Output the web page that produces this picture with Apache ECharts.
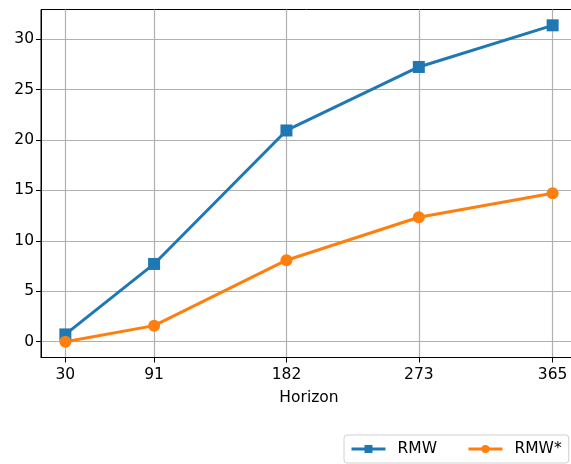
<!DOCTYPE html>
<html>
<head>
<meta charset="utf-8">
<script src="https://cdn.jsdelivr.net/npm/echarts@6/dist/echarts.min.js"></script>
<style>html,body{margin:0;padding:0;background:#fff;overflow:hidden}#c{width:571px;height:464px}</style>
</head>
<body>
<div id="c"></div>
<script>
var horizons = [30, 91, 182, 273, 365];
var rmw = [0.72, 7.71, 20.95, 27.25, 31.38];
var rmwStar = [0.0, 1.59, 8.08, 12.34, 14.72];
var yTicks = [0, 5, 10, 15, 20, 25, 30];
var xLabel = 'Horizon';
var seriesNames = ['RMW', 'RMW*'];

function pairs(xs, ys) { return xs.map(function (x, i) { return [x, ys[i]]; }); }

var chart = echarts.init(document.getElementById('c'), null, {renderer: 'canvas'});
var font = 'DejaVu Sans';
var fs = 15.5;
chart.setOption({
  animation: false,
  grid: {left: 41, top: 9.5, width: 536, height: 348, outerBoundsMode: 'none', show: true, borderColor: '#000', borderWidth: 1, backgroundColor: 'transparent', containLabel: false},
  xAxis: {
    type: 'value', min: 13.25, max: 381.75,
    name: xLabel, nameLocation: 'middle', nameGap: 32,
    nameTextStyle: {color: '#000', fontSize: fs, fontFamily: font},
    axisLine: {show: true, onZero: false, lineStyle: {color: '#000', width: 1}},
    axisTick: {show: true, length: 5, lineStyle: {color: '#000', width: 1}, customValues: horizons},
    axisLabel: {color: '#000', fontSize: fs, fontFamily: font, margin: 9, customValues: horizons},
    splitLine: {show: true, lineStyle: {color: '#b0b0b0', width: 1.2}}
  },
  yAxis: {
    type: 'value', min: -1.57, max: 32.95,
    axisLine: {show: true, onZero: false, lineStyle: {color: '#000', width: 1}},
    axisTick: {show: true, length: 5, lineStyle: {color: '#000', width: 1}, customValues: yTicks},
    axisLabel: {color: '#000', fontSize: fs, fontFamily: font, margin: 7, customValues: yTicks},
    splitLine: {show: true, lineStyle: {color: '#b0b0b0', width: 1.2}}
  },
  legend: {
    left: 344, top: 435,
    padding: [6, 7, 6, 6],
    borderColor: '#d0d0d0', borderWidth: 1, borderRadius: 3,
    itemWidth: 34, itemHeight: 10, itemGap: 30,
    lineStyle: {width: 3},
    textStyle: {color: '#000', fontSize: fs, fontFamily: font, padding: [0, 0, 0, 7]},
    data: seriesNames
  },
  series: [
    {name: seriesNames[0], type: 'line', data: pairs(horizons, rmw), symbol: 'rect', symbolSize: 12,
     lineStyle: {color: '#1f77b4', width: 3}, itemStyle: {color: '#1f77b4'}},
    {name: seriesNames[1], type: 'line', data: pairs(horizons, rmwStar), symbol: 'circle', symbolSize: 12,
     lineStyle: {color: '#ff7f0e', width: 3}, itemStyle: {color: '#ff7f0e'}}
  ]
});
</script>
</body>
</html>
